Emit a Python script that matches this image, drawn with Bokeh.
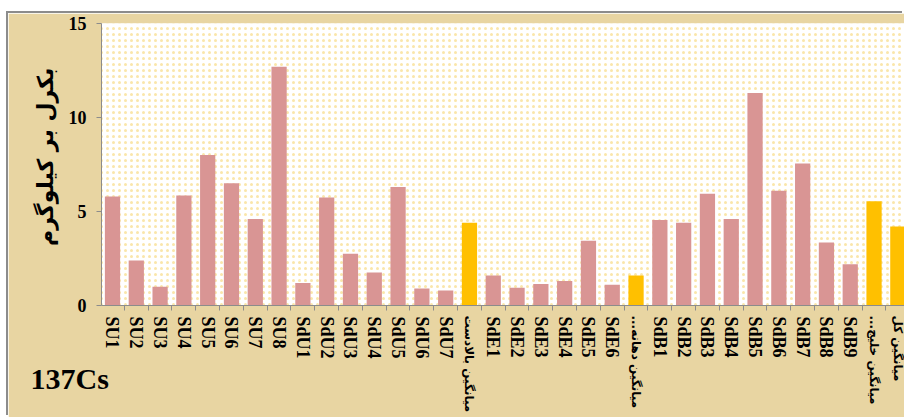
from bokeh.plotting import figure
from bokeh.models import Range1d, FixedTicker, BoxAnnotation, LinearAxis, Title
from bokeh.embed import file_html
from bokeh.resources import INLINE

RLM = "\u200f"
categories = ["SU1", "SU2", "SU3", "SU4", "SU5", "SU6", "SU7", "SU8",
              "SdU1", "SdU2", "SdU3", "SdU4", "SdU5", "SdU6", "SdU7",
              "میانگین بالادست",
              "SdE1", "SdE2", "SdE3", "SdE4", "SdE5", "SdE6",
              "میانگین دهانه..." + RLM,
              "SdB1", "SdB2", "SdB3", "SdB4", "SdB5", "SdB6", "SdB7", "SdB8", "SdB9",
              "میانگین خلیج..." + RLM,
              "میانگین کل"]
values = [5.8, 2.4, 1.0, 5.85, 8.0, 6.5, 4.6, 12.7,
          1.2, 5.75, 2.75, 1.75, 6.3, 0.9, 0.8,
          4.4,
          1.6, 0.95, 1.15, 1.3, 3.45, 1.1,
          1.6,
          4.55, 4.4, 5.95, 4.6, 11.3, 6.1, 7.55, 3.35, 2.2,
          5.55,
          4.2]
is_average = [c.startswith("میانگین") for c in categories]
y_ticks = [0, 5, 10, 15]

PINK = "#D99594"
GOLD = "#FFC000"
TAN = "#E8D5A2"

xs = list(range(1, len(categories) + 1))
colors = [GOLD if a else PINK for a in is_average]
avg_xs = [x for x, a in zip(xs, is_average) if a]

p = figure(width=896, height=404, output_backend="svg", toolbar_location=None,
           x_range=Range1d(0.538, 34.28), y_range=Range1d(0, 15),
           min_border_left=93, min_border_right=0, min_border_top=10, min_border_bottom=112)
p.styles = {"margin-top": "13px", "margin-left": "8px", "box-shadow": "-2px -2px 0 0 #8c8c8c"}
p.border_fill_color = TAN
p.background_fill_color = "white"
p.outline_line_color = None

p.add_layout(BoxAnnotation(fill_color="white", fill_alpha=1.0, line_color=None,
                           hatch_pattern=".", hatch_color="#F5C842", hatch_alpha=0.45,
                           hatch_scale=6, hatch_weight=1.0, level="underlay"))

p.vbar(x=xs, top=values, width=0.64, fill_color=colors, line_color=None)

# x axis: latin labels
xa = p.xaxis[0]
xa.ticker = FixedTicker(ticks=xs, minor_ticks=[x + 0.5 for x in [0] + xs])
xa.major_label_overrides = {x: ("" if a else c) for x, c, a in zip(xs, categories, is_average)}
xa.major_label_orientation = "vertical"
xa.major_tick_line_color = None
xa.major_tick_out = 0
xa.minor_tick_out = 5
xa.minor_tick_in = 0
xa.minor_tick_line_color = "#8c8c8c"
xa.axis_line_color = "#8c8c8c"
xa.major_label_text_font = "Liberation Serif"
xa.major_label_text_font_style = "bold"
xa.major_label_text_font_size = "18px"
xa.major_label_text_color = "black"
xa.major_label_standoff = 6

CAPTION_FONT = dict(text_font="Liberation Serif", text_font_style="bold", text_font_size="30px")

# blank spacer (about 19px high) pushing the caption down
p.add_layout(Title(text=" ", standoff=-17, text_color="black", **CAPTION_FONT), "below")

# "137Cs" caption, taking (almost) no height of its own
p.add_layout(Title(text="137Cs", align="left", vertical_align="top", offset=-71, standoff=-36,
                   text_color="black", **CAPTION_FONT), "below")

# second x axis, pulled back up under the first one: Persian labels in a smaller font
xa2 = LinearAxis(ticker=FixedTicker(ticks=avg_xs, minor_ticks=[]),
                 major_label_overrides={x: c for x, c, a in zip(xs, categories, is_average) if a},
                 major_label_orientation="vertical",
                 axis_line_color=None, major_tick_line_color=None, minor_tick_line_color=None,
                 major_tick_out=0, minor_tick_out=0,
                 major_label_text_font="DejaVu Sans", major_label_text_font_style="bold",
                 major_label_text_font_size="12px", major_label_text_color="black",
                 major_label_standoff=-64)
p.add_layout(xa2, "below")

# y axis
p.yaxis.ticker = FixedTicker(ticks=y_ticks)
p.yaxis.minor_tick_line_color = None
p.yaxis.major_tick_out = 5
p.yaxis.major_tick_in = 0
p.yaxis.major_tick_line_color = "#8c8c8c"
p.yaxis.axis_line_color = "#8c8c8c"
p.yaxis.major_label_text_font = "Liberation Serif"
p.yaxis.major_label_text_font_style = "bold"
p.yaxis.major_label_text_font_size = "18px"
p.yaxis.major_label_text_color = "black"
p.yaxis.major_label_standoff = 10
p.yaxis.axis_label = "\u00a0\u00a0بکرل بر کیلوگرم"
p.yaxis.axis_label_text_font = "DejaVu Sans"
p.yaxis.axis_label_text_font_style = "bold"
p.yaxis.axis_label_text_font_size = "22px"
p.yaxis.axis_label_text_color = "black"
p.yaxis.axis_label_standoff = 8

p.xgrid.grid_line_color = None
p.ygrid.grid_line_color = "#A6A6A6"
p.ygrid.grid_line_width = 1

open("out.html", "w").write(file_html(p, INLINE))
